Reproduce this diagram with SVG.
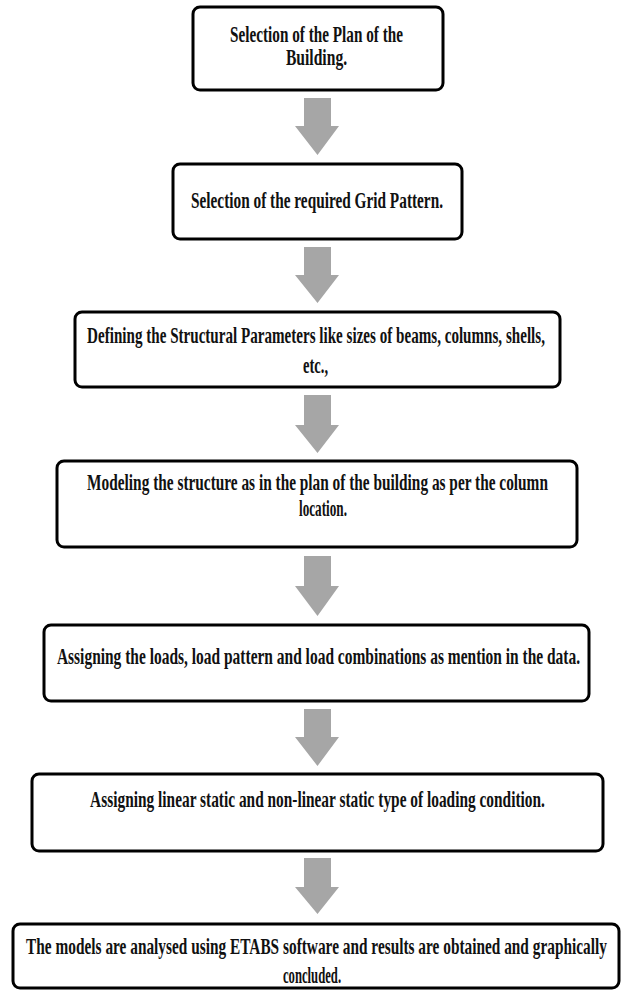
<svg xmlns="http://www.w3.org/2000/svg" width="622" height="990" viewBox="0 0 622 990">
<style>
.box{fill:#ffffff;stroke:#000000;stroke-width:3}
.lbl{font-family:"Liberation Serif","Times New Roman",serif;font-weight:bold;font-size:22.5px;fill:#111111;text-anchor:middle}
.arr{fill:#a6a6a6}
</style>
<rect x="0" y="0" width="622" height="990" fill="#ffffff"/>
<g id="connectors">
<path class="arr" d="M304,98 L331,98 L331,126 L339,126 L317.5,155 L295,126 L304,126 Z"/>
<path class="arr" d="M304,247 L331,247 L331,275 L339,275 L317.5,303 L295,275 L304,275 Z"/>
<path class="arr" d="M304,395 L331,395 L331,425 L339,425 L317.5,453 L295,425 L304,425 Z"/>
<path class="arr" d="M304,556 L331,556 L331,586 L339,586 L317.5,616 L295,586 L304,586 Z"/>
<path class="arr" d="M304,709 L331,709 L331,737 L339,737 L317.5,766 L295,737 L304,737 Z"/>
<path class="arr" d="M304,858 L331,858 L331,887 L339,887 L317.5,914 L295,887 L304,887 Z"/>
</g>
<g id="node1">
<rect class="box" x="193" y="7" width="250" height="83" rx="7"/>
<text class="lbl" transform="translate(316.5,42) scale(0.6,1)" textLength="288" lengthAdjust="spacingAndGlyphs">Selection of the Plan of the</text>
<text class="lbl" transform="translate(316.5,65) scale(0.6,1)" textLength="102" lengthAdjust="spacingAndGlyphs">Building.</text>
</g>
<g id="node2">
<rect class="box" x="173" y="164" width="289" height="75" rx="7"/>
<text class="lbl" transform="translate(317,208) scale(0.6,1)" textLength="420" lengthAdjust="spacingAndGlyphs">Selection of the required Grid Pattern.</text>
</g>
<g id="node3">
<rect class="box" x="75" y="312" width="485" height="75" rx="7"/>
<text class="lbl" transform="translate(316,343) scale(0.6,1)" textLength="763" lengthAdjust="spacingAndGlyphs">Defining the Structural Parameters like sizes of beams, columns, shells,</text>
<text class="lbl" transform="translate(315.5,373) scale(0.6,1)" textLength="42" lengthAdjust="spacingAndGlyphs">etc.,</text>
</g>
<g id="node4">
<rect class="box" x="57" y="461" width="520" height="86" rx="7"/>
<text class="lbl" transform="translate(317.5,490) scale(0.6,1)" textLength="768" lengthAdjust="spacingAndGlyphs">Modeling the structure as in the plan of the building as per the column</text>
<text class="lbl" transform="translate(323,516) scale(0.6,1)" textLength="80" lengthAdjust="spacingAndGlyphs">location.</text>
</g>
<g id="node5">
<rect class="box" x="44" y="625" width="545" height="76" rx="7"/>
<text class="lbl" transform="translate(318.5,664) scale(0.6,1)" textLength="872" lengthAdjust="spacingAndGlyphs">Assigning the loads, load pattern and load combinations as mention in the data.</text>
</g>
<g id="node6">
<rect class="box" x="32" y="774" width="571" height="77" rx="7"/>
<text class="lbl" transform="translate(317.5,807) scale(0.6,1)" textLength="758" lengthAdjust="spacingAndGlyphs">Assigning linear static and non-linear static type of loading condition.</text>
</g>
<g id="node7">
<rect class="box" x="13" y="924" width="606" height="64" rx="7"/>
<text class="lbl" transform="translate(316.5,954) scale(0.6,1)" textLength="968" lengthAdjust="spacingAndGlyphs">The models are analysed using ETABS software and results are obtained and graphically</text>
<text class="lbl" transform="translate(312,983) scale(0.6,1)" textLength="97" lengthAdjust="spacingAndGlyphs">concluded.</text>
</g>
</svg>
